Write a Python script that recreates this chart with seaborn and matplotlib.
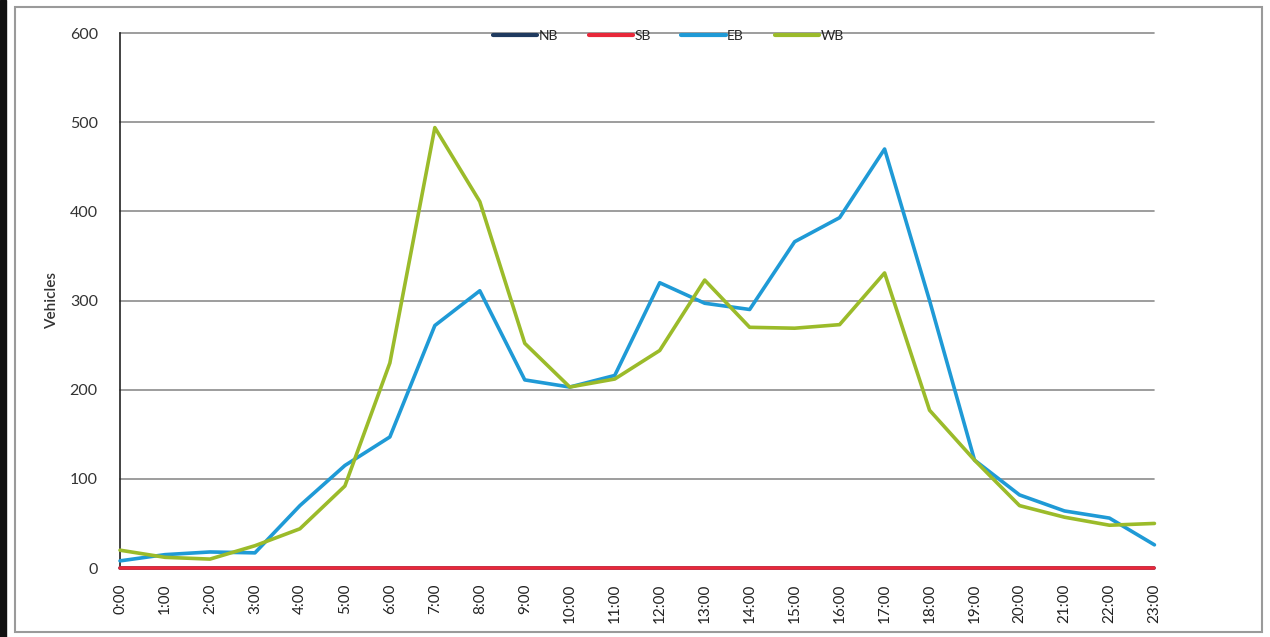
import numpy as np
import pandas as pd
import matplotlib.pyplot as plt
import seaborn as sns
from matplotlib.patches import Rectangle

sns.set_style('white')
plt.rcParams['font.family'] = ['Lato', 'DejaVu Sans']

hours = list(range(24))
hour_labels = ['%d:00' % h for h in hours]

nb = [0] * 24
sb = [0] * 24
eb = [8, 15, 18, 17, 70, 115, 147, 272, 311, 211, 203, 216,
      320, 297, 290, 366, 393, 470, 300, 121, 82, 64, 56, 26]
wb = [20, 12, 10, 25, 44, 92, 230, 494, 411, 252, 203, 212,
      244, 323, 270, 269, 273, 331, 177, 121, 70, 57, 48, 50]

directions = ['NB', 'SB', 'EB', 'WB']
colors = {'NB': '#1f3a5f', 'SB': '#e8283a', 'EB': '#1f9ad6', 'WB': '#9bbb2a'}

df = pd.DataFrame({
    'hour': hours * 4,
    'vehicles': nb + sb + eb + wb,
    'dir': ['NB'] * 24 + ['SB'] * 24 + ['EB'] * 24 + ['WB'] * 24,
})

fig = plt.figure(figsize=(12.7, 6.37), dpi=100)
ax = fig.add_axes([0.0945, 0.1083, 0.8145, 0.8397])

# gridlines first so lines sit on top
for v in range(100, 700, 100):
    ax.axhline(v, color='#8c8c8c', lw=1.2, zorder=0)

sns.lineplot(data=df, x='hour', y='vehicles', hue='dir', hue_order=directions,
             palette=colors, linewidth=2.6, ax=ax, legend=False, zorder=3)
for ln in ax.lines:
    ln.set_clip_on(False)

ax.set_xlim(0, 23)
ax.set_ylim(0, 600)
ax.set_yticks(range(0, 700, 100))
ax.set_yticklabels([str(v) for v in range(0, 700, 100)], fontsize=11.5, color='#333333')
ax.set_xticks(hours)
ax.set_xticklabels(hour_labels, rotation=90, fontsize=11, color='#222222')
ax.tick_params(axis='x', direction='out', length=5, width=1.2, color='#222222', pad=6)
ax.tick_params(axis='y', length=0, pad=16)
ax.set_xlabel('')
ax.set_ylabel('Vehicles', fontsize=11, fontweight='semibold', color='#333333', labelpad=8)

for s in ['top', 'right', 'bottom']:
    ax.spines[s].set_visible(False)
ax.spines['left'].set_color('#222222')
ax.spines['left'].set_linewidth(1.2)

handles = [plt.Line2D([], [], color=colors[d], lw=3) for d in directions]
leg = ax.legend(handles, directions, loc='upper center', bbox_to_anchor=(0.53, 1.03),
                ncol=4, frameon=False, fontsize=10, handlelength=3.2,
                handletextpad=0.1, columnspacing=2.2)

# scanned page frame
fig.patches.append(Rectangle((15 / 1270, 5 / 637), 1247 / 1270, 625 / 637,
                             transform=fig.transFigure, fill=False,
                             edgecolor='#9a9a9a', lw=1.5))
fig.patches.append(Rectangle((0, 0), 6 / 1270, 1, transform=fig.transFigure,
                             color='#111111'))

fig.savefig('out.png', dpi=100)
